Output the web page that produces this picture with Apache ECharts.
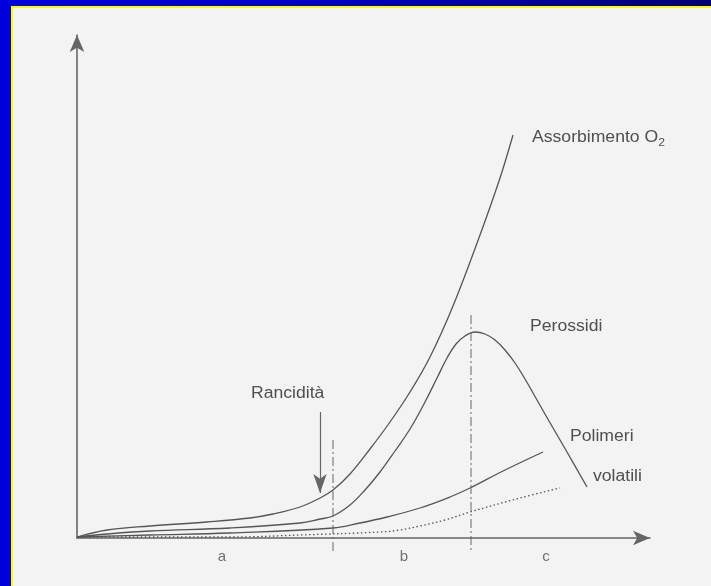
<!DOCTYPE html>
<html>
<head>
<meta charset="utf-8">
<script src="https://cdn.jsdelivr.net/npm/echarts@6/dist/echarts.min.js"></script>
<style>
  html, body { margin: 0; padding: 0; width: 711px; height: 586px; overflow: hidden; background: #f3f3f3; }
  #frameTop { position: absolute; left: 0; top: 0; width: 711px; height: 6px; background: linear-gradient(to right, #0000dd 0%, #0000c4 45%, #000074 100%); }
  #frameTopY { position: absolute; left: 11px; top: 6px; width: 700px; height: 2px; background: #ffff00; }
  #frameLeft { position: absolute; left: 0; top: 0; width: 11px; height: 586px; background: #0000dd; }
  #frameLeftY { position: absolute; left: 11px; top: 6px; width: 2px; height: 580px; background: #ffff00; }
  #chart { position: absolute; left: 0; top: 0; width: 711px; height: 586px; }
</style>
</head>
<body>
<div id="frameTop"></div>
<div id="frameLeft"></div>
<div id="frameTopY"></div>
<div id="frameLeftY"></div>
<div id="chart"></div>
<script>
// Values (arbitrary units: time on x, amount on y)
const assorbimentoO2 = [[0,1],[30,8],[73,12],[130,16],[173,20],[196,24],[223,31],[243,40],[256,48],[273,64],[293,89],[313,116],[333,146],[353,181],[376,232],[403,303],[423,360],[436,403]];
const perossidi = [[0,1],[30,4],[73,7],[153,10],[223,15],[243,19],[256,22],[273,33],[288,48],[303,66],[318,87],[333,109],[348,136],[360,160],[370,180],[379,194],[388,202],[398,206],[408,204],[418,198],[428,188],[438,175],[448,159],[460,138],[472,117],[490,86],[510,51]];
const polimeri = [[0,1],[73,3],[153,5],[256,10],[283,15],[310,21],[343,30],[373,41],[393,50],[426,67],[466,86]];
const volatili = [[0,1],[153,1],[223,3],[303,6],[323,8],[343,12],[368,18],[393,26],[443,40],[483,50]];
const phaseLineB = [[256,98],[256,-14]];
const phaseLineC = [[394,223],[394,-14]];
const rancArrow = [[243,126],[243,45]];
const phaseLabels = ['a','b','c'];
const phaseLabelX = [145,327,469];
const phaseLabelY = -19;

const lineColor = '#555555';
const textColor = '#4f4f4f';
const fontFam = '"Liberation Sans", Arial, sans-serif';

const chart = echarts.init(document.getElementById('chart'), null, { renderer: 'canvas' });

function curve(name, data, type) {
  return {
    name: name, type: 'line', data: data, smooth: 0.4, symbol: 'none', clip: false,
    lineStyle: { color: lineColor, width: 1.3, type: type || 'solid' },
    silent: true, animation: false
  };
}
function txt(x, y, s, rich) {
  return {
    type: 'text', x: x, y: y, scaleX: 1.1, silent: true,
    style: { text: s, fill: textColor, font: '16px ' + fontFam, verticalAlign: 'middle', rich: rich }
  };
}

chart.setOption({
  backgroundColor: 'transparent',
  animation: false,
  grid: { left: 77, right: 61, top: 35, bottom: 48 },
  xAxis: {
    type: 'value', min: 0, max: 573,
    axisLine: { show: true, onZero: false, symbol: ['none', 'arrow'], symbolSize: [11, 17],
      lineStyle: { color: '#666666', width: 1.6 } },
    axisTick: { show: false }, axisLabel: { show: false }, splitLine: { show: false }
  },
  yAxis: {
    type: 'value', min: 0, max: 503,
    axisLine: { show: true, onZero: false, symbol: ['none', 'arrow'], symbolSize: [11, 17],
      lineStyle: { color: '#666666', width: 1.6 } },
    axisTick: { show: false }, axisLabel: { show: false }, splitLine: { show: false }
  },
  series: [
    curve('Assorbimento O2', assorbimentoO2),
    curve('Perossidi', perossidi),
    curve('Polimeri', polimeri),
    curve('volatili', volatili, [1.5, 2.5]),
    {
      type: 'line', data: phaseLineB, symbol: 'none', clip: false, silent: true,
      lineStyle: { color: '#666', width: 1, type: [9, 3, 2, 3] }
    },
    {
      type: 'line', data: phaseLineC, symbol: 'none', clip: false, silent: true,
      lineStyle: { color: '#666', width: 1, type: [9, 3, 2, 3] }
    },
    {
      type: 'line', data: [], silent: true,
      markLine: {
        silent: true, symbol: ['none', 'arrow'], symbolSize: [10, 19], label: { show: false },
        lineStyle: { color: '#666', width: 1.2, type: 'solid' },
        data: [[{ coord: rancArrow[0] }, { coord: rancArrow[1] }]]
      }
    },
    {
      type: 'scatter', symbolSize: 0, clip: false, silent: true,
      data: phaseLabels.map((n, i) => ({ name: n, value: [phaseLabelX[i], phaseLabelY] })),
      label: { show: true, position: 'inside', formatter: '{b}', color: textColor, fontSize: 15, fontFamily: fontFam }
    }
  ],
  graphic: [
    txt(532, 138, 'Assorbimento O{sub|2}', { sub: { fontSize: 11, padding: [9, 0, 0, 0], fill: textColor, fontFamily: fontFam } }),
    txt(530, 327, 'Perossidi'),
    txt(570, 437, 'Polimeri'),
    txt(593, 477, 'volatili'),
    txt(251, 394, 'Rancidità')
  ]
});
</script>
</body>
</html>
